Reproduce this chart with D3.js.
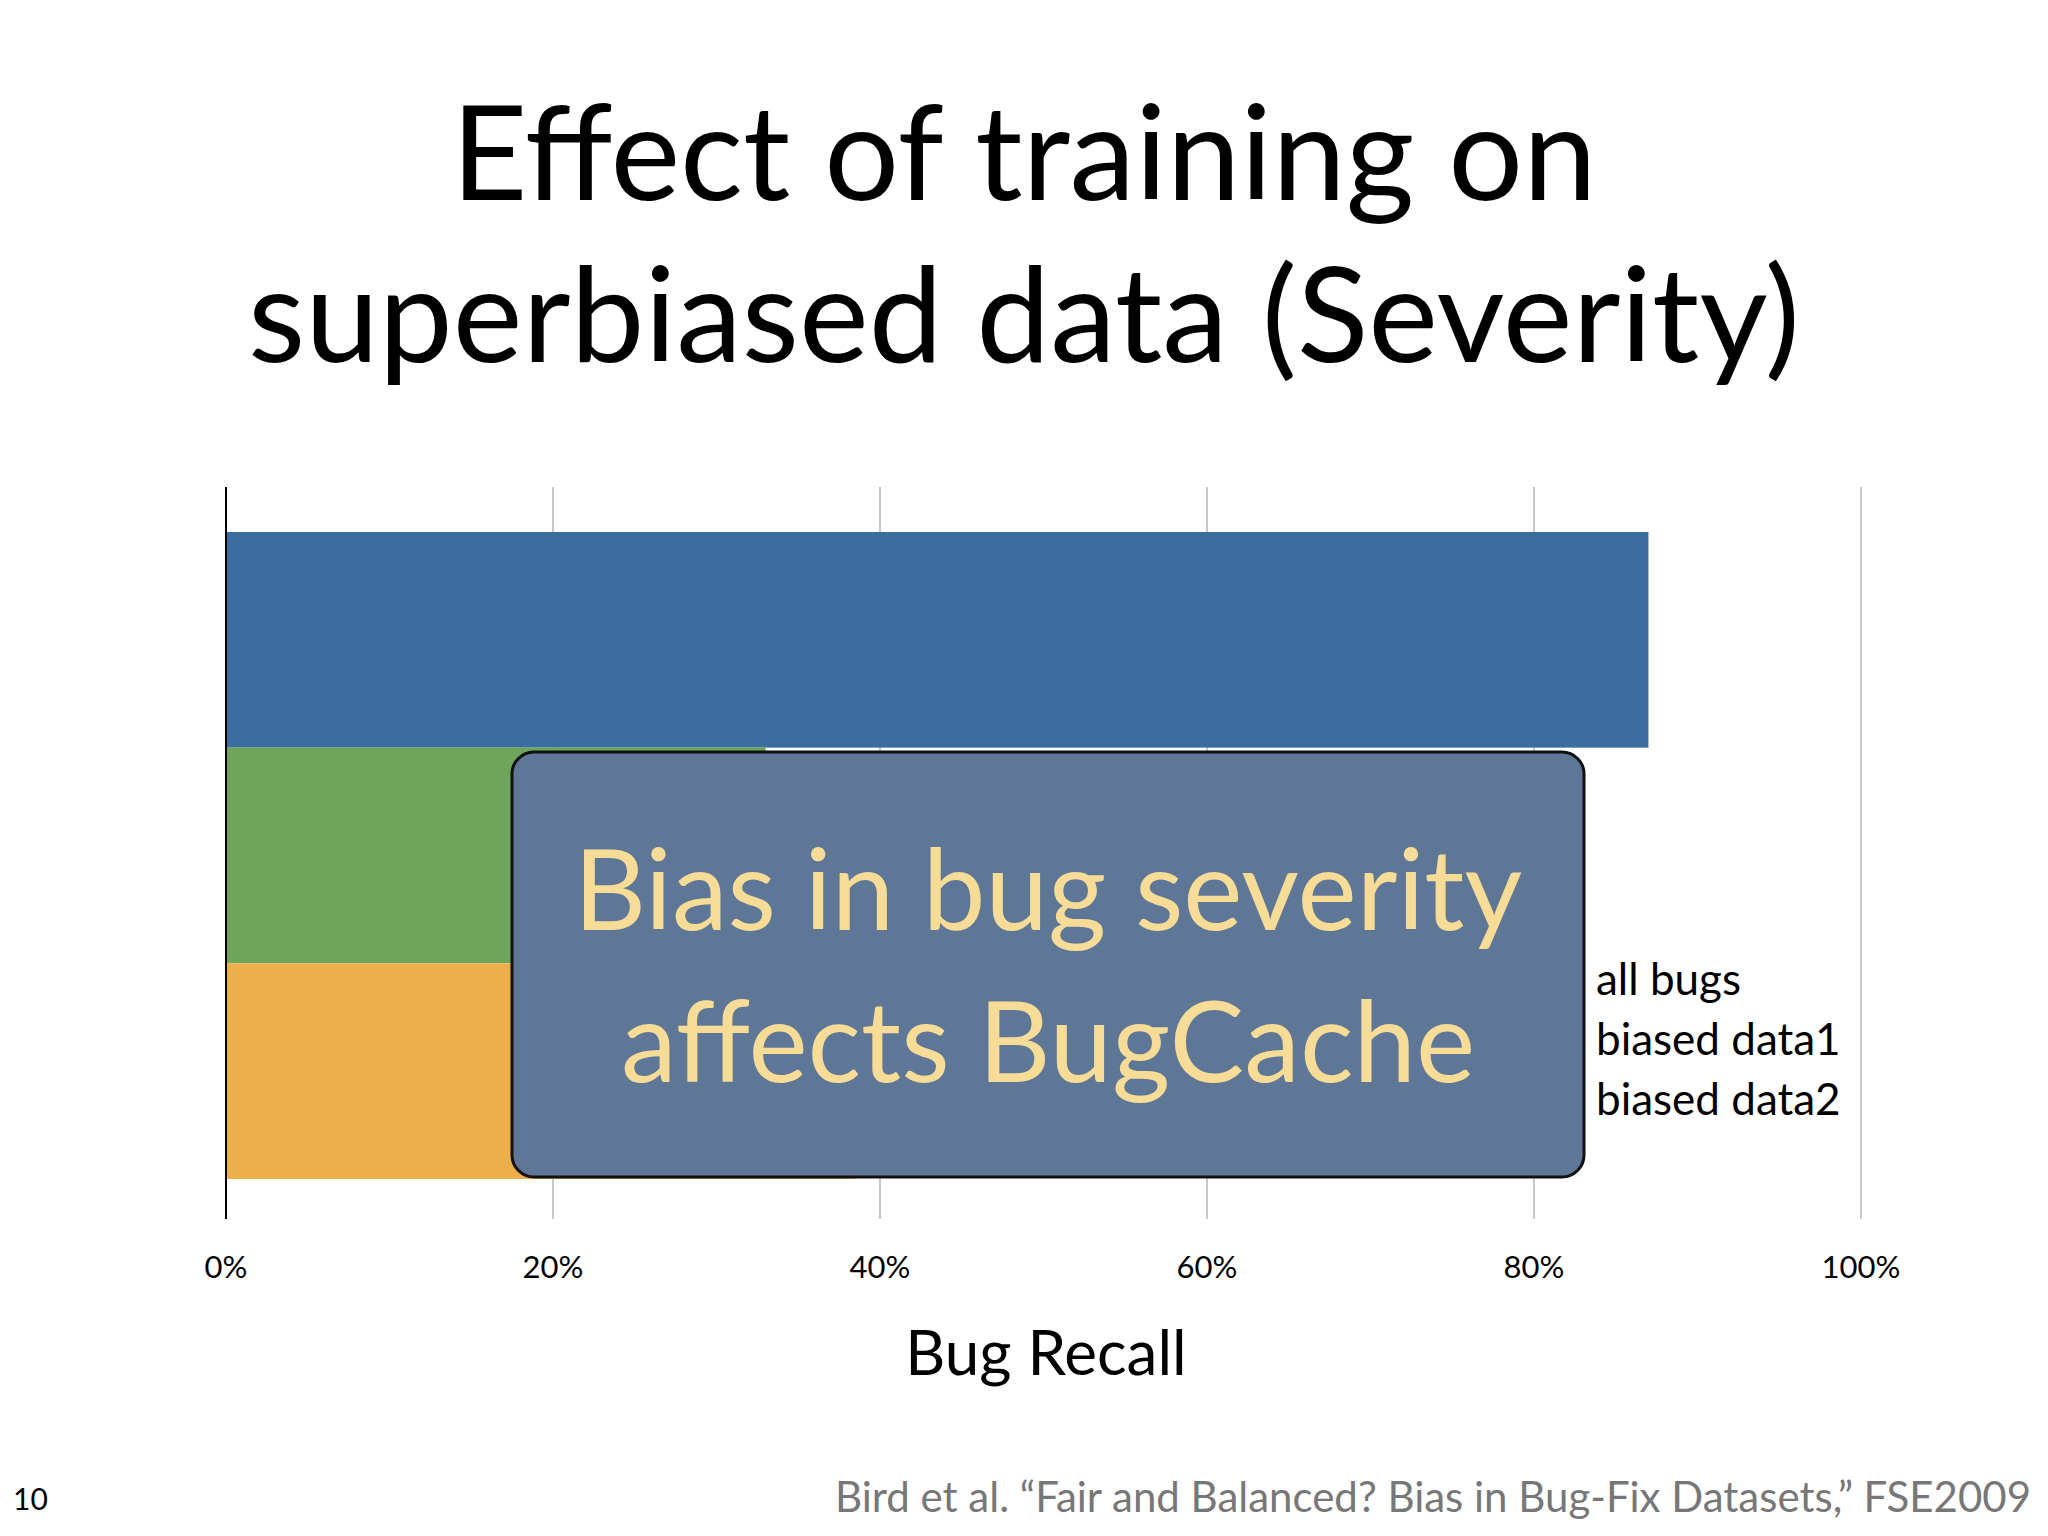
<!DOCTYPE html>
<html><head><meta charset="utf-8">
<script src="https://cdn.jsdelivr.net/npm/d3@7"></script>
<style>body{margin:0;background:#fff}svg{font-family:Lato,"Open Sans",sans-serif}</style>
</head><body><div id="viz"></div>
<script>
// data
var series = ['all bugs', 'biased data1', 'biased data2'];
var recall = [0.87, 0.33, 0.385]; // green/orange mostly hidden by the callout, estimated
var colors = ['#3b6e9f', '#6fa55a', '#edaf4b'];
var ticks = [0, 0.2, 0.4, 0.6, 0.8, 1.0];

var svg = d3.select('#viz').append('svg').attr('width', 2048).attr('height', 1536);

// title
svg.append('text').attr('x', 1024).attr('y', 200).attr('text-anchor', 'middle')
    .attr('font-size', 132).text('Effect of training on');
svg.append('text').attr('x', 1024).attr('y', 362).attr('text-anchor', 'middle')
    .attr('font-size', 132).text('superbiased data (Severity)');

var x = d3.scaleLinear().domain([0, 1]).range([226, 1861]);
var y = d3.scaleBand().domain(series).range([532, 1179]).padding(0);

// gridlines
svg.selectAll('.grid').data(ticks.slice(1)).enter().append('line')
    .attr('x1', d => x(d)).attr('x2', d => x(d))
    .attr('y1', 487).attr('y2', 1219)
    .style('stroke', '#c8c8c8').style('stroke-width', 2);

// bars
svg.selectAll('.bar').data(series).enter().append('rect')
    .attr('x', x(0)).attr('y', d => y(d))
    .attr('width', (d, i) => x(recall[i]) - x(0))
    .attr('height', y.bandwidth())
    .style('fill', (d, i) => colors[i]);

// axis line
svg.append('line').attr('x1', x(0)).attr('x2', x(0)).attr('y1', 487).attr('y2', 1219)
    .style('stroke', '#000').style('stroke-width', 2);

// tick labels
svg.selectAll('.tick').data(ticks).enter().append('text')
    .attr('x', d => x(d)).attr('y', 1278).attr('text-anchor', 'middle')
    .attr('font-size', 31).text(d3.format('.0%'));

svg.append('text').attr('x', 1046).attr('y', 1375).attr('text-anchor', 'middle')
    .attr('font-size', 62).text('Bug Recall');

// legend
svg.selectAll('.leg').data(series).enter().append('text')
    .attr('x', 1596).attr('y', (d, i) => 995 + i * 60)
    .attr('font-size', 44).text(d => d);

// callout
svg.append('rect').attr('x', 512).attr('y', 752).attr('width', 1072).attr('height', 425)
    .attr('rx', 22).style('fill', '#5f7797').style('stroke', '#111').style('stroke-width', 3);
svg.append('text').attr('x', 1048).attr('y', 930).attr('text-anchor', 'middle')
    .attr('font-size', 112).style('fill', '#f6dc96').text('Bias in bug severity');
svg.append('text').attr('x', 1048).attr('y', 1082).attr('text-anchor', 'middle')
    .attr('font-size', 112).style('fill', '#f6dc96').text('affects BugCache');

// footer
svg.append('text').attr('x', 2031).attr('y', 1512).attr('text-anchor', 'end')
    .attr('font-size', 42).style('fill', '#777')
    .text('Bird et al. \u201cFair and Balanced? Bias in Bug-Fix Datasets,\u201d FSE2009');
svg.append('text').attr('x', 13).attr('y', 1510).attr('font-size', 30).text('10');
</script></body></html>
